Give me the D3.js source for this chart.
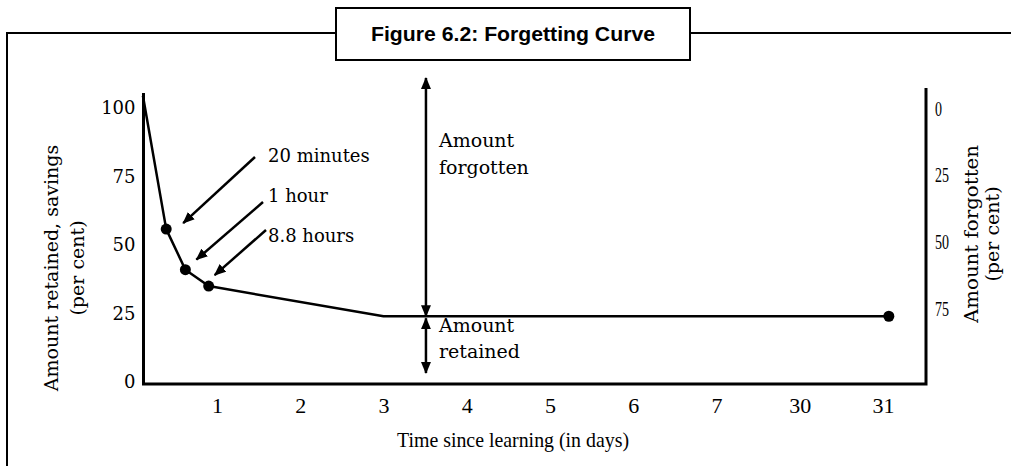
<!DOCTYPE html>
<meta charset="utf-8">
<style>
body { margin: 0; background: #fff; }
svg { display: block; }
text { fill: #000; }
</style>
<svg width="1011" height="466"></svg>
<script src="https://cdn.jsdelivr.net/npm/d3@7"></script>
<script>

// x positions are in "day slots": slot 1 = "1", ..., slot 9 = "31"
var dayLabels = ["1", "2", "3", "4", "5", "6", "7", "30", "31"];
var retainedTicks = [0, 25, 50, 75, 100];
var forgottenTicks = [0, 25, 50, 75];

var curveSlot = [0.11, 0.39, 0.62, 0.90, 3.0, 9.07];
var curveRetained = [104.5, 55.8, 41, 35, 24, 24];
var dotIdx = [1, 2, 3, 5];

var noteLabels = ["20 minutes", "1 hour", "8.8 hours"];
var noteIdx = [1, 2, 3];

var splitSlot = 3.51;     // where the forgotten / retained arrows stand
var splitLevel = 24;      // retained level at the split

var SERIF = "'DejaVu Serif', serif",
    TIMES = "'Liberation Serif', serif";

var svg = d3.select("svg");

var x = d3.scaleLinear().domain([1, 9]).range([217, 883]),
    y = d3.scaleLinear().domain([0, 100]).range([382, 108]),
    yf = d3.scaleLinear().domain([0, 75]).range([108, 308]);

var axisLeftX = 143.5, axisRightX = 926, axisBottomY = 384;

// arrow heads
var defs = svg.append("defs");
defs.append("marker")
    .attr("id", "head")
    .attr("markerUnits", "userSpaceOnUse")
    .attr("viewBox", "0 0 12 10")
    .attr("refX", 11).attr("refY", 5)
    .attr("markerWidth", 12).attr("markerHeight", 10)
    .attr("orient", "auto-start-reverse")
  .append("path")
    .attr("d", "M0,0L12,5L0,10Z")
    .attr("fill", "#000");

// outer frame + title box
svg.append("path")
    .attr("d", "M7,466V33H1011")
    .attr("fill", "none")
    .attr("stroke", "#000")
    .attr("stroke-width", 2);

svg.append("rect")
    .attr("x", 336).attr("y", 8)
    .attr("width", 354).attr("height", 52)
    .attr("fill", "#fff")
    .attr("stroke", "#000")
    .attr("stroke-width", 2);

svg.append("text")
    .attr("x", 513).attr("y", 41)
    .attr("text-anchor", "middle")
    .attr("textLength", 284)
    .attr("lengthAdjust", "spacingAndGlyphs")
    .style("font-family", "'Liberation Sans Narrow', 'Liberation Sans', sans-serif")
    .style("font-weight", "bold")
    .style("font-size", "21px")
    .text("Figure 6.2: Forgetting Curve");

// axis frame (three sides)
svg.append("path")
    .attr("d", "M" + axisLeftX + ",93V" + axisBottomY + "H" + axisRightX + "V88")
    .attr("fill", "none")
    .attr("stroke", "#000")
    .attr("stroke-width", 3);

// left axis
var gl = svg.append("g")
    .attr("transform", "translate(" + axisLeftX + ",0)")
    .call(d3.axisLeft(y).tickValues(retainedTicks).tickSize(0).tickPadding(8));
gl.select(".domain").remove();
gl.selectAll("text").style("font-family", SERIF).style("font-size", "18px");

// right axis (narrow digits)
var gr = svg.append("g")
    .attr("transform", "translate(" + axisRightX + ",0)")
    .call(d3.axisRight(yf).tickValues(forgottenTicks).tickSize(0).tickPadding(9));
gr.select(".domain").remove();
gr.selectAll("text")
    .style("font-family", TIMES).style("font-size", "22px")
    .attr("textLength", function(d) { return String(d).length * 7; })
    .attr("lengthAdjust", "spacingAndGlyphs");

// bottom axis
var gb = svg.append("g")
    .attr("transform", "translate(0," + axisBottomY + ")")
    .call(d3.axisBottom(x).tickValues(d3.range(1, 10)).tickFormat(function(d, i) { return dayLabels[i]; }).tickSize(0).tickPadding(13));
gb.select(".domain").remove();
gb.selectAll("text").style("font-family", TIMES).style("font-size", "22px");

// axis titles
svg.append("text")
    .attr("x", 513).attr("y", 447)
    .attr("text-anchor", "middle")
    .attr("textLength", 232)
    .attr("lengthAdjust", "spacingAndGlyphs")
    .style("font-family", TIMES).style("font-size", "22px")
    .text("Time since learning (in days)");

var lt = svg.append("g").attr("text-anchor", "middle")
    .style("font-family", SERIF).style("font-size", "19px");
lt.append("text").attr("transform", "translate(58,268) rotate(-90)").text("Amount retained, savings");
lt.append("text").attr("transform", "translate(84,268) rotate(-90)").text("(per cent)");

var rt = svg.append("g").attr("text-anchor", "middle")
    .style("font-family", SERIF).style("font-size", "19px");
rt.append("text").attr("transform", "translate(978,234) rotate(-90)")
    .attr("textLength", 178).attr("lengthAdjust", "spacingAndGlyphs")
    .text("Amount forgotten");
rt.append("text").attr("transform", "translate(999,234) rotate(-90)").text("(per cent)");

// forgetting curve
var pts = curveSlot.map(function(s, i) { return [x(s), y(curveRetained[i])]; });

svg.append("path")
    .datum(pts)
    .attr("d", d3.line())
    .attr("fill", "none")
    .attr("stroke", "#000")
    .attr("stroke-width", 2.5)
    .attr("stroke-linejoin", "round");

svg.selectAll(".dot")
    .data(dotIdx)
  .enter().append("circle")
    .attr("class", "dot")
    .attr("cx", function(i) { return pts[i][0]; })
    .attr("cy", function(i) { return pts[i][1]; })
    .attr("r", 5.5)
    .attr("fill", "#000");

// point labels with arrows
var noteTail = [[255, 157], [263, 202], [266, 230]],
    noteTipOff = [[17, -6], [11, -10], [6, -11]],
    noteBase = [162, 202, 242];

svg.selectAll(".note-arrow")
    .data(noteIdx)
  .enter().append("line")
    .attr("class", "note-arrow")
    .attr("x1", function(d, i) { return noteTail[i][0]; })
    .attr("y1", function(d, i) { return noteTail[i][1]; })
    .attr("x2", function(d, i) { return pts[d][0] + noteTipOff[i][0]; })
    .attr("y2", function(d, i) { return pts[d][1] + noteTipOff[i][1]; })
    .attr("stroke", "#000")
    .attr("stroke-width", 2.5)
    .attr("marker-end", "url(#head)");

svg.selectAll(".note")
    .data(noteLabels)
  .enter().append("text")
    .attr("class", "note")
    .attr("x", 268)
    .attr("y", function(d, i) { return noteBase[i]; })
    .style("font-family", SERIF).style("font-size", "18px")
    .text(function(d) { return d; });

// forgotten / retained double arrows
var sx = x(splitSlot);
svg.append("line")
    .attr("x1", sx).attr("x2", sx)
    .attr("y1", 78).attr("y2", y(splitLevel))
    .attr("stroke", "#000").attr("stroke-width", 2.5)
    .attr("marker-start", "url(#head)")
    .attr("marker-end", "url(#head)");

svg.append("line")
    .attr("x1", sx).attr("x2", sx)
    .attr("y1", y(splitLevel) + 2).attr("y2", 373)
    .attr("stroke", "#000").attr("stroke-width", 2.5)
    .attr("marker-start", "url(#head)")
    .attr("marker-end", "url(#head)");

var st = svg.append("g").style("font-family", SERIF).style("font-size", "19px");
st.append("text").attr("x", sx + 13).attr("y", 147).text("Amount");
st.append("text").attr("x", sx + 13).attr("y", 174).text("forgotten");
st.append("text").attr("x", sx + 13).attr("y", 332).text("Amount");
st.append("text").attr("x", sx + 13).attr("y", 358).text("retained");

</script>
